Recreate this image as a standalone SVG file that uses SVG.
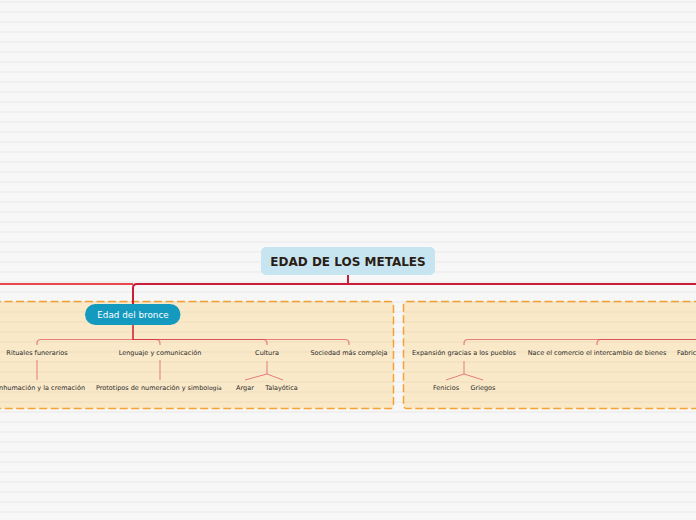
<svg xmlns="http://www.w3.org/2000/svg" width="696" height="520" viewBox="0 0 696 520">
<defs>
<pattern id="stripes" x="0" y="0" width="10" height="10" patternUnits="userSpaceOnUse">
<rect x="0" y="1" width="10" height="2" fill="#000" fill-opacity="0.028"/>
</pattern>
<style>
.bd{fill:#fae9c8;stroke:#f6a334;stroke-width:1.5;stroke-dasharray:8 3.5}
.lbl{font-family:"DejaVu Sans",Verdana,sans-serif;font-size:6.5px;fill:#2a2a2a;text-anchor:middle}
.sub{fill:none;stroke:#d42a3c;stroke-opacity:0.55;stroke-width:1.2}
.leaf{fill:none;stroke:#e0606a;stroke-opacity:0.8;stroke-width:1}
</style>
</defs>
<rect width="696" height="520" fill="#f7f7f7"/>
<g id="boundary1"><rect class="bd" x="-10" y="301.5" width="403.5" height="107" rx="3"/></g>
<g id="boundary2"><rect class="bd" x="403.5" y="301.5" width="310" height="107" rx="3"/></g>
<rect width="696" height="520" fill="url(#stripes)"/>
<g id="connectors">
<path d="M133 284 H0" fill="none" stroke="#e8474e" stroke-width="2"/>
<path d="M348 275 V284 M348 284 H696" fill="none" stroke="#cc1c3c" stroke-width="2"/>
<path d="M348 284 H137 Q133 284 133 288 V305" fill="none" stroke="#cc1c3c" stroke-width="2"/>
<path class="sub" d="M133 325 V339.5 H41 Q37 339.5 37 343.5 V345"/>
<path class="sub" d="M133 325 V339.5 H156 Q160 339.5 160 343.5 V345"/>
<path class="sub" d="M133 325 V339.5 H263 Q267 339.5 267 343.5 V345"/>
<path class="sub" d="M133 325 V339.5 H345 Q349 339.5 349 343.5 V345"/>
<path class="sub" d="M696 339.5 H601 Q597 339.5 597 343.5 V345"/>
<path class="sub" d="M696 339.5 H468 Q464 339.5 464 343.5 V345"/>
<path class="leaf" d="M37 360 V380"/>
<path class="leaf" d="M160 360 V380"/>
<path class="leaf" d="M267 361 V374 L245 380 M267 374 L283 380"/>
<path class="leaf" d="M464 361 V374 L446 380 M464 374 L483 380"/>
</g>
<g id="central">
<rect x="261" y="247" width="174" height="28" rx="5" fill="#c6e5f1"/>
<text x="348" y="266" font-family="'DejaVu Sans',Verdana,sans-serif" font-size="12" font-weight="bold" fill="#2b1d14" text-anchor="middle">EDAD DE LOS METALES</text>
</g>
<g id="edad-bronce">
<rect x="85" y="304" width="95.5" height="21" rx="10.5" fill="#1499bf"/>
<text x="133" y="318" font-family="'DejaVu Sans',Verdana,sans-serif" font-size="8.8" fill="#ffffff" text-anchor="middle">Edad del bronce</text>
</g>
<g id="rituales"><text class="lbl" x="37" y="354.5">Rituales funerarios</text></g>
<g id="lenguaje"><text class="lbl" x="160" y="354.5">Lenguaje y comunicación</text></g>
<g id="cultura"><text class="lbl" x="267" y="354.5">Cultura</text></g>
<g id="sociedad"><text class="lbl" x="349" y="354.5">Sociedad más compleja</text></g>
<g id="inhumacion"><text class="lbl" x="85" y="389.5" text-anchor="end" style="text-anchor:end">Inhumación y la cremación</text></g>
<g id="prototipos"><text class="lbl" x="96" y="389.5" style="text-anchor:start">Prototipos de numeración y simbo<tspan font-size="6" dy="0.5">logía</tspan></text></g>
<g id="argar"><text class="lbl" x="245" y="389.5">Argar</text></g>
<g id="talayotica"><text class="lbl" x="281.5" y="389.5">Talayótica</text></g>
<g id="expansion"><text class="lbl" x="464" y="354.5">Expansión gracias a los pueblos</text></g>
<g id="comercio"><text class="lbl" x="597" y="354.5">Nace el comercio el intercambio de bienes</text></g>
<g id="fabric"><text class="lbl" x="677" y="354.5" style="text-anchor:start">Fabricación</text></g>
<g id="fenicios"><text class="lbl" x="446" y="389.5">Fenicios</text></g>
<g id="griegos"><text class="lbl" x="483" y="389.5">Griegos</text></g>
</svg>
